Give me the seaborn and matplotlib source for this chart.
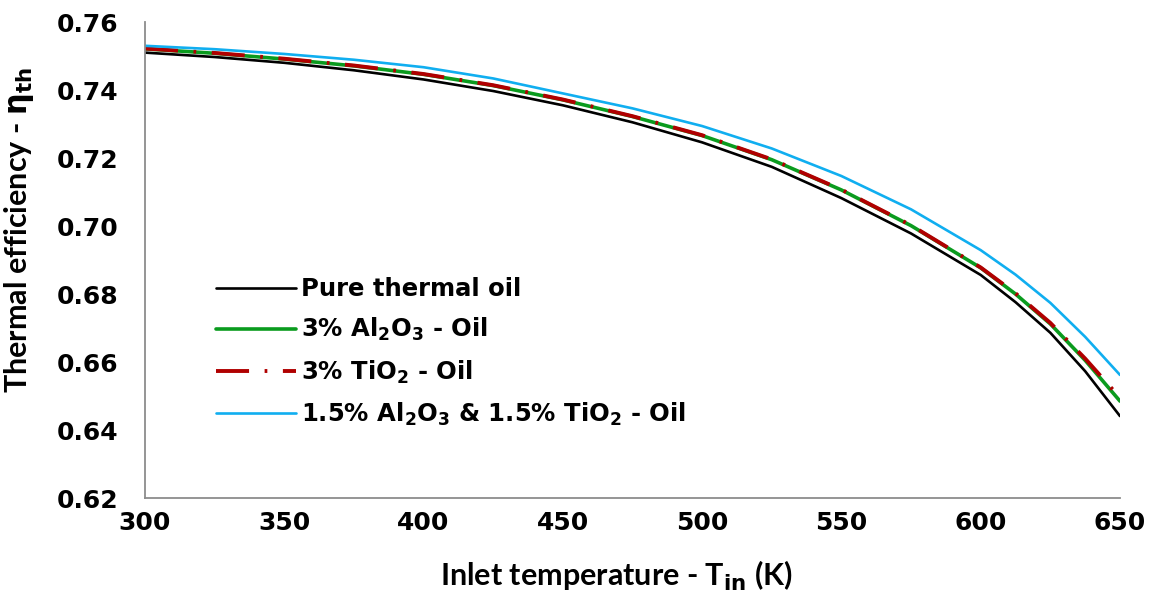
import matplotlib
matplotlib.use("Agg")
import matplotlib.pyplot as plt
import seaborn as sns
import pandas as pd

# Inlet temperature (K)
t_in = [300, 325, 350, 375, 400, 425, 450, 475, 500, 525, 550, 575, 600, 612.5, 625, 637.5, 650]

# Thermal efficiency for each working fluid
eff_pure = [0.7510, 0.7497, 0.7480, 0.7458, 0.7431, 0.7397, 0.7355, 0.7305, 0.7246,
            0.7174, 0.7082, 0.6978, 0.6856, 0.6776, 0.6686, 0.6573, 0.6441]
eff_al2o3 = [0.7521, 0.7508, 0.7491, 0.7471, 0.7446, 0.7413, 0.7371, 0.7322, 0.7266,
             0.7195, 0.7106, 0.7001, 0.6877, 0.6800, 0.6712, 0.6605, 0.6485]
eff_tio2 = [0.7522, 0.7509, 0.7492, 0.7472, 0.7447, 0.7414, 0.7372, 0.7323, 0.7267,
            0.7196, 0.7107, 0.7002, 0.6878, 0.6802, 0.6715, 0.6610, 0.6495]
eff_hybrid = [0.7530, 0.7520, 0.7506, 0.7489, 0.7467, 0.7434, 0.7390, 0.7346, 0.7294,
              0.7228, 0.7147, 0.7049, 0.6929, 0.6857, 0.6774, 0.6674, 0.6562]

labels = [
    "Pure thermal oil",
    "3% Al$_\\mathbf{2}$O$_\\mathbf{3}$ - Oil",
    "3% TiO$_\\mathbf{2}$ - Oil",
    "1.5% Al$_\\mathbf{2}$O$_\\mathbf{3}$ & 1.5% TiO$_\\mathbf{2}$ - Oil",
]
x_ticks = [300, 350, 400, 450, 500, 550, 600, 650]
y_ticks = [0.62, 0.64, 0.66, 0.68, 0.70, 0.72, 0.74, 0.76]

sns.set_theme(style="white")
plt.rcParams["font.family"] = ["DejaVu Sans"]
plt.rcParams["mathtext.fontset"] = "dejavusans"
plt.rcParams["mathtext.default"] = "bf"
plt.rcParams["text.color"] = "black"
plt.rcParams["axes.labelcolor"] = "black"
plt.rcParams["xtick.color"] = "black"
plt.rcParams["ytick.color"] = "black"

fig = plt.figure(figsize=(11.57, 5.93), dpi=100)
ax = fig.add_axes([0.1253, 0.1602, 0.8427, 0.8027])

styles = [
    dict(color="black", linewidth=1.9),
    dict(color="#0A9B1E", linewidth=2.6),
    dict(color="#B00000", linewidth=2.8),
    dict(color="#10AEF0", linewidth=1.9),
]
dash_patterns = [None, None, (8.5, 4.0, 0.7, 4.0), None]
series = [eff_pure, eff_al2o3, eff_tio2, eff_hybrid]

for vals, lab, st, dp in zip(series, labels, styles, dash_patterns):
    df = pd.DataFrame({"T": t_in, "eta": vals})
    sns.lineplot(data=df, x="T", y="eta", ax=ax, label=lab, **st)
    if dp is not None:
        ax.lines[-1].set_dashes(dp)

ax.set_xlim(300, 650)
ax.set_ylim(0.62, 0.76)
ax.set_xticks(x_ticks)
ax.set_yticks(y_ticks)
ax.set_xticklabels([str(v) for v in x_ticks])
ax.set_yticklabels([f"{v:.2f}" for v in y_ticks])

for side in ("top", "right"):
    ax.spines[side].set_visible(False)
for side in ("left", "bottom"):
    ax.spines[side].set_color("#8C8C8C")
    ax.spines[side].set_linewidth(1.3)

ax.tick_params(axis="both", which="major", direction="out", length=7, width=1.3,
               color="#8C8C8C", labelsize=18, labelcolor="black")
ax.tick_params(axis="y", pad=12)
ax.tick_params(axis="x", pad=2)
for lbl in ax.get_xticklabels() + ax.get_yticklabels():
    lbl.set_fontweight("bold")

ax.set_xlabel("Inlet temperature - T$_{\\mathbf{in}}$ (K)", fontsize=22,
              fontweight="bold", family=["Lato", "DejaVu Sans"])
ax.set_ylabel("Thermal efficiency - $\\mathbf{\\eta}_{\\mathbf{th}}$", fontsize=22,
              fontweight="bold", family=["Lato", "DejaVu Sans"])
ax.xaxis.set_label_coords(0.484, -0.128)
ax.yaxis.set_label_coords(-0.112, 0.563)

leg = ax.legend(loc="upper left", bbox_to_anchor=(0.05, 0.51), frameon=False,
                prop={"size": 17.5, "weight": "bold"}, handlelength=3.3,
                handletextpad=0.2, labelspacing=0.62)
for t in leg.get_texts():
    t.set_color("black")

fig.savefig("out.png", dpi=100)
